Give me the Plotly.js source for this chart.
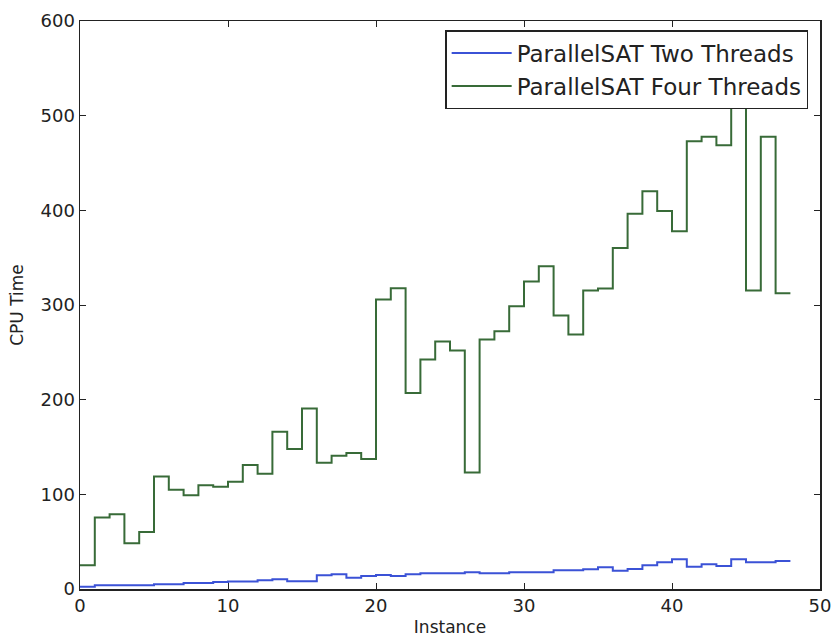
<!DOCTYPE html>
<html>
<head>
<meta charset="utf-8">
<script src="https://cdn.plot.ly/plotly-3.0.1.min.js"></script>
<style>html,body{margin:0;padding:0;background:#fff;}#chart{width:835px;height:641px;}</style>
</head>
<body>
<div id="chart"></div>
<script>
// Instance index (start of each step interval)
const instances = [0,1,2,3,4,5,6,7,8,9,10,11,12,13,14,15,16,17,18,19,20,21,22,23,24,25,26,27,28,29,30,31,32,33,34,35,36,37,38,39,40,41,42,43,44,45,46,47];
// CPU time, ParallelSAT Two Threads
const twoThreads = [2.5,3.9,3.9,3.9,3.9,5,5,6.3,6.3,7.4,8,8,9.2,10.2,8.1,8.1,14.5,15.5,12,13.8,14.8,13.8,15.5,16.6,16.6,16.6,17.6,16.6,16.6,17.6,17.6,17.6,19.7,19.7,20.8,22.9,19.4,21.2,25,28.2,31.4,23.6,26.1,24.3,31.4,28.2,28.2,29.6];
// CPU time, ParallelSAT Four Threads
const fourThreads = [25,75.5,79,48.3,60.3,118.9,104.8,99.1,109.7,108,113.2,130.9,121.7,166,147.8,190.8,133.3,140.7,143.6,137.2,305.8,317.8,207,242.3,261.4,251.9,123.1,263.5,272.3,298.7,324.9,341,288.9,268.8,315.3,317.5,360.1,396.5,420.1,399.3,377.8,473,477.6,468.8,550,315.3,477.6,312.5];
const seriesNames = ["ParallelSAT Two Threads", "ParallelSAT Four Threads"];

function stepX(xs){ return xs.concat([xs[xs.length-1] + 1]); }
function stepY(ys){ return ys.concat([ys[ys.length-1]]); }

const traces = [
  {x: stepX(instances), y: stepY(twoThreads), name: seriesNames[0], mode: 'lines',
   line: {shape: 'hv', color: '#3b52d6', width: 2}},
  {x: stepX(instances), y: stepY(fourThreads), name: seriesNames[1], mode: 'lines',
   line: {shape: 'hv', color: '#386b38', width: 2}}
];

const axisCommon = {
  showgrid: false, zeroline: false, showline: true, linecolor: '#222', linewidth: 1.5,
  mirror: 'ticks', ticks: 'inside', ticklen: 6, tickwidth: 1, tickcolor: '#222',
  tickfont: {family: 'DejaVu Sans', size: 18, color: '#222'}
};

const layout = {
  width: 835, height: 641,
  margin: {l: 80, r: 15, t: 21, b: 52},
  paper_bgcolor: '#fff', plot_bgcolor: '#fff',
  font: {family: 'DejaVu Sans', color: '#222'},
  xaxis: Object.assign({}, axisCommon, {range: [0, 50], tick0: 0, dtick: 10,
    title: {text: 'Instance', font: {family: 'DejaVu Sans', size: 17, color: '#222'}, standoff: 6}}),
  yaxis: Object.assign({}, axisCommon, {range: [0, 600], tick0: 0, dtick: 100,
    title: {text: 'CPU Time', font: {family: 'DejaVu Sans', size: 17, color: '#222'}, standoff: 12}}),
  showlegend: true,
  legend: {x: 0.984, xanchor: 'right', y: 0.984, yanchor: 'top',
    bgcolor: '#fff', bordercolor: '#222', borderwidth: 1.5, itemwidth: 60,
    font: {family: 'DejaVu Sans', size: 23, color: '#222'}, tracegroupgap: 0}
};

Plotly.newPlot('chart', traces, layout, {displayModeBar: false, staticPlot: true});
</script>
</body>
</html>
